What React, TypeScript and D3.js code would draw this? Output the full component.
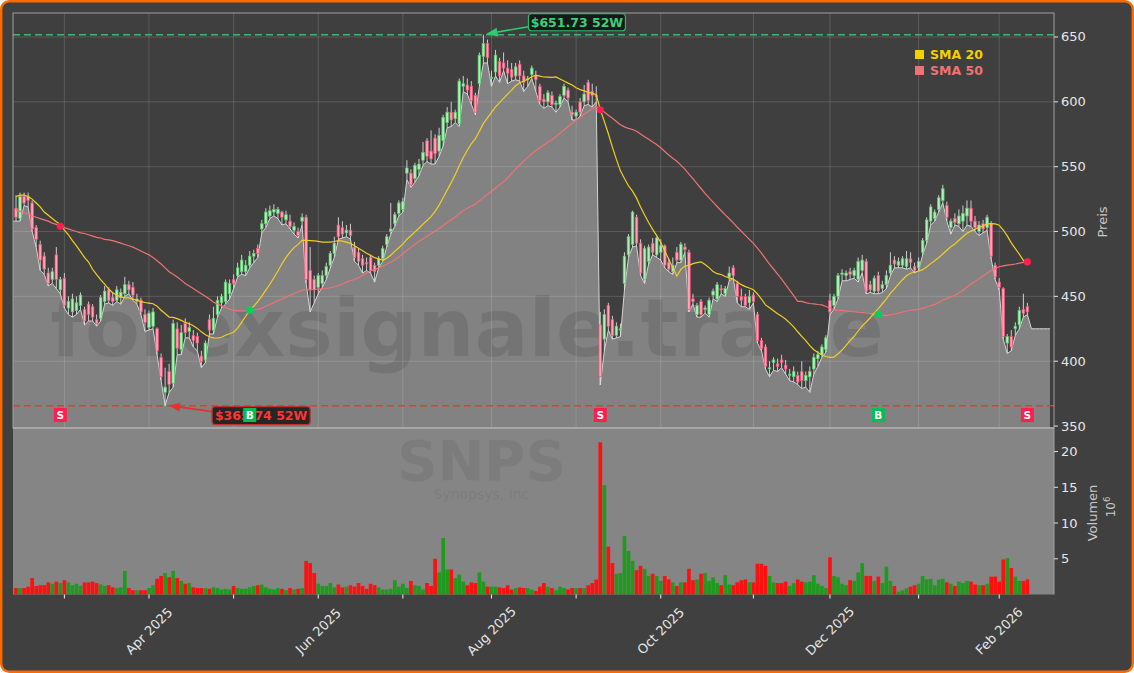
import React from "react";
import * as d3 from "d3";

// ---------- DATA ----------
const opens = [
  518,510,527,527,522,503,490,481,468,463,
  482,455,464,441,438,439,443,440,444,442,
  432,433,446,455,449,447,449,452,459,457,
  446,447,436,426,427,425,403,376,392,383,
  425,409,429,423,420,419,404,401,432,424,
  436,445,446,452,463,466,469,469,474,481,
  487,502,506,512,515,514,515,509,508,501,
  500,508,511,470,463,457,460,466,474,483,
  505,503,499,501,488,484,479,476,480,474,
  474,479,490,500,506,514,517,545,545,541,
  548,555,570,562,572,562,570,584,592,587,
  583,612,613,612,605,614,635,645,618,623,
  631,630,626,625,620,629,620,617,621,620,
  612,602,600,605,598,598,605,609,592,589,
  600,600,615,608,605,428,417,443,432,420,
  424,460,482,490,511,491,463,477,491,482,
  484,489,476,469,484,478,488,484,448,436,
  446,440,436,451,448,456,452,465,472,460,
  450,450,445,451,436,416,411,394,399,398,
  401,397,389,388,389,392,385,388,394,402,
  405,409,447,443,450,467,466,469,466,463,
  470,477,459,454,466,456,459,468,478,474,
  474,473,479,473,472,484,493,508,510,517,
  524,520,503,510,506,508,512,518,508,500,
  506,503,506,474,461,456,414,419,425,428,
  440,442,
];
const highs = [
  528,530,530,530,524,505,493,484,472,472,
  488,465,468,450,452,450,453,442,446,444,
  436,451,458,457,453,458,456,465,462,461,
  452,449,440,439,441,426,406,395,398,432,
  430,428,433,430,424,422,408,416,436,442,
  450,452,463,463,467,476,482,478,485,486,
  490,509,518,520,521,519,516,516,513,507,
  503,514,513,488,466,468,470,476,485,496,
  511,508,505,506,492,487,482,480,482,476,
  481,489,498,522,515,524,526,555,548,553,
  556,569,572,578,575,580,590,596,600,594,
  618,620,618,616,607,638,651.73,648,624,640,
  634,638,632,630,630,632,624,620,628,624,
  614,606,609,608,601,606,614,611,597,594,
  603,613,617,614,612,438,440,445,435,430,
  429,484,498,516,513,494,489,490,495,496,
  494,490,479,480,488,492,491,486,452,445,
  448,443,449,456,461,459,458,473,474,462,
  456,452,455,453,438,418,413,400,403,402,
  405,401,394,396,392,400,392,396,406,408,
  413,420,452,452,468,471,470,472,472,480,
  482,479,462,466,469,462,470,484,481,480,
  481,485,484,476,480,495,511,521,517,528,
  536,523,510,514,517,520,524,524,512,508,
  509,513,508,476,464,457,421,424,430,442,
  452,445,
];
const lows = [
  508,508,520,519,500,488,470,467,458,460,
  456,452,441,436,434,436,440,428,431,431,
  427,431,444,445,443,446,444,450,452,447,
  444,436,423,424,425,405,385,365.74,376,380,
  405,405,418,418,411,408,395,399,421,421,
  434,441,444,448,456,465,467,466,472,476,
  480,499,503,510,512,510,505,506,502,498,
  495,505,460,438,445,452,457,463,472,480,
  494,495,496,494,477,474,468,470,468,461,
  472,477,488,498,504,512,515,540,534,538,
  543,551,554,552,552,558,566,580,581,584,
  581,608,606,598,590,612,630,630,612,620,
  615,624,614,616,617,616,608,612,618,608,
  598,595,597,596,592,596,603,600,586,586,
  589,597,598,596,600,381.7,408,424,417,418,
  419,455,480,488,489,466,460,475,482,480,
  478,472,469,467,476,476,484,438,444,434,
  434,437,434,448,446,452,450,462,464,445,
  442,442,440,445,414,408,394,388,393,392,
  395,390,385,384,382,379,380,376,390,396,
  403,407,436,440,448,462,462,463,464,461,
  468,452,453,452,452,453,456,466,472,472,
  472,471,472,468,470,482,491,505,508,515,
  522,508,498,505,504,500,505,504,500,497,
  499,501,479,463,455,417,406,408,420,425,
  434,436,
];
const closes = [
  511,527,522,524,502,494,478,471,460,469,
  463,463,443,446,448,445,451,431,436,434,
  429,449,454,447,446,455,453,459,455,451,
  448,438,430,437,438,408,388,380,382,429,
  410,422,422,426,416,414,400,414,424,433,
  447,450,461,460,460,472,478,474,481,483,
  483,506,515,516,517,517,511,513,504,504,
  497,511,463,455,455,466,466,473,483,491,
  496,498,501,497,480,477,474,475,470,469,
  479,487,496,502,513,522,523,549,536,551,
  552,561,558,556,560,574,588,592,586,592,
  616,614,609,601,592,636,645,634,619,636,
  620,626,622,619,627,620,615,618,626,617,
  601,600,607,598,599,604,612,603,590,592,
  592,606,601,605,604,388,436,427,420,427,
  425,481,496,515,491,468,487,488,484,495,
  489,474,471,474,478,490,486,440,446,443,
  436,441,447,454,459,455,456,468,466,450,
  447,443,450,446,416,410,396,395,401,396,
  399,394,390,392,384,385,389,392,403,405,
  411,418,438,450,466,468,468,467,470,477,
  478,454,455,464,454,459,466,474,475,477,
  479,479,476,470,477,493,509,519,515,526,
  533,511,508,507,512,514,518,508,503,505,
  502,511,481,465,457,419,419,411,427,439,
  437,438,
];
// volume in millions
const volumes = [
  0.9,0.9,0.9,1.1,2.3,1.2,1.3,1.3,1.7,1.5,
  1.8,1.6,2.0,1.7,1.3,1.5,1.2,1.7,1.7,1.8,
  1.6,1.4,1.2,1.3,1.0,0.9,1.0,3.3,0.9,0.6,
  0.6,0.6,0.6,0.9,1.3,2.2,2.6,3.0,2.4,3.3,
  2.3,1.9,1.5,1.6,1.0,0.9,0.9,0.9,0.8,1.0,
  0.9,0.7,0.8,0.7,1.2,0.9,0.8,0.8,1.0,1.2,
  1.3,1.4,1.0,0.8,0.7,0.9,0.8,0.6,0.9,0.7,
  0.8,0.9,4.7,4.4,3.0,1.5,1.2,1.2,1.6,1.0,
  1.4,1.0,1.1,1.3,1.1,1.6,1.2,0.8,1.5,1.3,
  1.0,0.7,0.7,0.8,2.0,1.1,1.5,0.9,1.9,1.3,
  1.2,0.7,1.6,1.2,5.0,3.1,7.9,3.5,3.5,2.3,
  2.8,1.8,1.3,1.7,1.6,3.1,1.8,1.1,1.1,1.1,
  1.0,0.9,1.3,0.7,0.9,1.0,0.9,0.9,0.7,0.5,
  1.1,1.6,1.1,0.9,0.6,1.1,0.9,0.7,0.9,0.9,
  0.9,0.9,1.3,1.6,2.1,21.3,15.3,6.7,4.4,2.9,
  3.0,8.2,6.1,4.7,3.4,4.0,3.6,2.6,2.9,2.6,
  1.9,2.6,2.1,1.7,1.2,1.7,1.7,3.6,2.0,2.1,
  2.9,3.0,1.9,2.4,1.6,1.3,2.7,1.4,1.3,1.7,
  2.0,2.1,1.7,1.7,4.3,4.3,4.0,2.6,1.7,1.6,
  1.6,1.8,1.2,1.6,2.1,1.8,1.7,1.8,2.7,1.5,
  1.2,0.9,5.2,2.6,2.4,1.5,1.3,2.0,1.9,3.1,
  4.4,2.6,2.6,1.9,2.5,1.6,3.9,1.9,1.2,0.4,
  0.6,0.9,1.1,1.3,1.5,2.6,2.1,2.2,1.3,2.1,
  2.2,1.7,1.5,1.2,1.8,1.6,1.9,1.8,1.4,1.3,
  1.3,1.5,2.5,2.5,1.8,4.9,5.1,3.7,2.5,1.9,
  1.9,2.1,
];
// SMA values before enough history exists
const sma20Lead = [527,528,528,527,525,522,519,515,512.5,510,507.5,505.5,501,497.5,493,489,484.5,480,476.5];
const sma50Lead = [
  516.5,515.5,514.5,513.5,512,511,510,509,508,506.5,
  505.5,504,503,502,501,500,499,498.5,497.5,496.5,
  495.5,495,494,493.5,493,492,491,490,489,488,
  486.5,485,483.5,482,480,477.5,475,472,469,467,
  465,462.5,460,458,456,454,452,450,448,
];
// shaded price area continues flat after the last candle
const areaTail = [425, 425, 425, 425, 425];

const monthTickIdx = [12, 33, 54, 75, 96, 118, 139, 160, 183, 202, 224, 244];
const monthTickLabels = ["", "Apr 2025", "", "Jun 2025", "", "Aug 2025", "", "Oct 2025", "", "Dec 2025", "", "Feb 2026"];
const priceTicks = [350, 400, 450, 500, 550, 600, 650];
const volumeTicks = [5, 10, 15, 20];

const signalIdx = [11, 58, 145, 214, 251];
const signalType = ["S", "B", "S", "B", "S"];

const high52 = 651.73;
const high52Idx = 116;
const low52 = 365.74;
const low52Idx = 37;

const ticker = "SNPS";
const company = "Synopsys, Inc";
const brand = "forexsignale.trade";

// ---------- CHART ----------
const W = 1134;
const H = 673;
const LEFT = 13;
const RIGHT = 1054;
const PTOP = 13;
const PBOT = 428;
const VTOP = 428;
const VBOT = 594.5;
const FONT = "DejaVu Sans, Verdana, sans-serif";

export default function App() {
  const n = closes.length;
  const idx = d3.range(n);
  const x = d3.scaleLinear().domain([-0.75, 257.6]).range([LEFT, RIGHT]);
  const yP = d3.scaleLinear().domain([348.5, 668.5]).range([PBOT, PTOP]);
  const yV = d3.scaleLinear().domain([0, 23.3]).range([VBOT, VTOP]);

  const smaOf = (period: number, lead: number[]) =>
    idx.map((i) => (i < period - 1 ? lead[i] : (d3.mean(closes.slice(i - period + 1, i + 1)) as number)));
  const sma20 = smaOf(20, sma20Lead);
  const sma50 = smaOf(50, sma50Lead);

  const areaPts: { i: number; v: number }[] = [
    { i: -0.75, v: lows[0] },
    ...idx.map((i) => ({ i, v: lows[i] })),
    ...areaTail.map((v, k) => ({ i: n + k, v })),
    { i: n + areaTail.length - 0.4, v: areaTail[areaTail.length - 1] },
  ];
  const areaGen = d3
    .area<{ i: number; v: number }>()
    .x((d) => x(d.i))
    .y0(PBOT)
    .y1((d) => yP(d.v));
  const edgeGen = d3
    .line<{ i: number; v: number }>()
    .x((d) => x(d.i))
    .y((d) => yP(d.v));
  const smaLine = d3
    .line<number>()
    .x((_, i) => x(i))
    .y((d) => yP(d));

  const bw = 2.6;
  const vw = 3.7;

  const hx = x(high52Idx);
  const hy = yP(high52);
  const lx = x(low52Idx);
  const ly = yP(low52);

  return (
    <div style={{ position: "absolute", left: 0, top: 0, width: W, height: H }}>
      <svg width={W} height={H} viewBox={`0 0 ${W} ${H}`} style={{ display: "block", fontFamily: FONT }}>
        <defs>
          <clipPath id="pclip">
            <rect x={LEFT} y={PTOP} width={RIGHT - LEFT} height={PBOT - PTOP} />
          </clipPath>
          <clipPath id="aclip">
            <path d={areaGen(areaPts) || ""} />
          </clipPath>
          <clipPath id="vclip">
            <rect x={LEFT} y={VTOP} width={RIGHT - LEFT} height={VBOT - VTOP} />
          </clipPath>
          <marker id="arrG" viewBox="0 0 10 10" refX="9" refY="5" markerWidth="7" markerHeight="7" orient="auto">
            <path d="M0,1 L10,5 L0,9 z" fill="#2ecc71" />
          </marker>
          <marker id="arrR" viewBox="0 0 10 10" refX="9" refY="5" markerWidth="7" markerHeight="7" orient="auto">
            <path d="M0,1 L10,5 L0,9 z" fill="#e8302f" />
          </marker>
        </defs>

        {/* figure background + border */}
        <rect x={1.2} y={1.2} width={W - 2.4} height={H - 2.4} rx={8} fill="#404040" stroke="#ff6a00" strokeWidth={2.4} />

        {/* ---------- PRICE PANEL ---------- */}
        <rect x={LEFT} y={PTOP} width={RIGHT - LEFT} height={PBOT - PTOP} fill="#3f3f3f" />
        <g clipPath="url(#pclip)">
          <path d={areaGen(areaPts) || ""} fill="#828282" />
          {/* brand watermark, visible on the shaded area only */}
          <g clipPath="url(#aclip)">
            <text x={467} y={356} textAnchor="middle" fontSize={80} fontWeight="bold" fill="#000" fillOpacity={0.1}>
              {brand}
            </text>
          </g>
          {/* grid */}
          {priceTicks.slice(1).map((t) => (
            <line key={"gp" + t} x1={LEFT} x2={RIGHT} y1={yP(t)} y2={yP(t)} stroke="#ffffff" strokeOpacity={0.16} strokeWidth={0.9} />
          ))}
          {monthTickIdx.map((t) => (
            <line key={"gx" + t} x1={x(t)} x2={x(t)} y1={PTOP} y2={PBOT} stroke="#ffffff" strokeOpacity={0.16} strokeWidth={0.9} />
          ))}
          <path d={edgeGen(areaPts) || ""} fill="none" stroke="#d4d4d4" strokeWidth={1} />

          {/* candles */}
          {idx.map((i) => {
            const up = closes[i] >= opens[i];
            const top = yP(Math.max(opens[i], closes[i]));
            const bot = yP(Math.min(opens[i], closes[i]));
            return (
              <g key={"c" + i}>
                <line x1={x(i)} x2={x(i)} y1={yP(highs[i])} y2={yP(lows[i])} stroke="#dcdcdc" strokeWidth={0.9} />
                <rect
                  x={x(i) - bw / 2}
                  y={top}
                  width={bw}
                  height={Math.max(bot - top, 0.9)}
                  fill={up ? "#b4ecbc" : "#ffa3b6"}
                  stroke={up ? "#55c86a" : "#ee5278"}
                  strokeWidth={0.7}
                />
              </g>
            );
          })}

          {/* moving averages */}
          <path d={smaLine(sma50) || ""} fill="none" stroke="#f07272" strokeWidth={1.2} />
          <path d={smaLine(sma20) || ""} fill="none" stroke="#f2cf1d" strokeWidth={1.2} />

          {/* 52 week lines */}
          <line x1={LEFT} x2={RIGHT} y1={hy} y2={hy} stroke="#3cb868" strokeWidth={1.4} strokeDasharray="7,4" />
          <line x1={LEFT} x2={RIGHT} y1={ly} y2={ly} stroke="#e23b3b" strokeWidth={1.5} strokeDasharray="7,4" />

          {/* crossover dots */}
          {signalIdx.map((s, k) => (
            <circle key={"d" + k} cx={x(s)} cy={yP(sma50[s])} r={3.6} fill={signalType[k] === "S" ? "#ff1f4f" : "#00d060"} />
          ))}
        </g>

        {/* 52W low annotation */}
        <line x1={lx + 47} y1={ly + 6} x2={lx + 5} y2={ly} stroke="#e8302f" strokeWidth={1.6} markerEnd="url(#arrR)" />
        <rect x={lx + 47} y={ly + 1} width={98} height={18} rx={3} fill="#1c1c1c" fillOpacity={0.9} stroke="#c0302c" strokeWidth={1.2} />
        <text x={lx + 96} y={ly + 14.5} textAnchor="middle" fontSize={12.5} fontWeight="bold" fill="#ff3434">
          {"$" + low52.toFixed(2) + " 52W"}
        </text>

        {/* signal labels */}
        {signalIdx.map((s, k) => (
          <g key={"s" + k}>
            <rect x={x(s) - 6.5} y={408} width={13} height={14} fill={signalType[k] === "S" ? "#ff1f4f" : "#00c055"} />
            <text x={x(s)} y={419} textAnchor="middle" fontSize={10.5} fontWeight="bold" fill="#ffffff">
              {signalType[k]}
            </text>
          </g>
        ))}

        {/* 52W high annotation */}
        <line x1={hx + 45} y1={hy - 8} x2={hx + 4} y2={hy - 1} stroke="#2ecc71" strokeWidth={1.6} markerEnd="url(#arrG)" />
        <rect x={hx + 45} y={hy - 21} width={97} height={17} rx={3} fill="#141414" fillOpacity={0.9} stroke="#2eb866" strokeWidth={1.2} />
        <text x={hx + 93.5} y={hy - 8} textAnchor="middle" fontSize={12.5} fontWeight="bold" fill="#34d37a">
          {"$" + high52.toFixed(2) + " 52W"}
        </text>

        {/* legend */}
        <rect x={915} y={50} width={9} height={9} fill="#f5d000" />
        <text x={930} y={59} fontSize={12.5} fontWeight="bold" fill="#f5d000">SMA 20</text>
        <rect x={915} y={66} width={9} height={9} fill="#f07272" />
        <text x={930} y={75} fontSize={12.5} fontWeight="bold" fill="#f07272">SMA 50</text>

        {/* price frame */}
        <rect x={LEFT} y={PTOP} width={RIGHT - LEFT} height={PBOT - PTOP} fill="none" stroke="#a0a0a0" strokeWidth={1} />

        {/* ---------- VOLUME PANEL ---------- */}
        <rect x={LEFT} y={VTOP} width={RIGHT - LEFT} height={VBOT - VTOP} fill="#858585" />
        <g clipPath="url(#vclip)">
          <text x={LEFT + 0.45 * (RIGHT - LEFT)} y={480} textAnchor="middle" fontSize={56} fontWeight="bold" fill="#000" fillOpacity={0.065}>
            {ticker}
          </text>
          <text x={LEFT + 0.45 * (RIGHT - LEFT)} y={499} textAnchor="middle" fontSize={14} fill="#000" fillOpacity={0.07}>
            {company}
          </text>
          {idx.map((i) => (
            <rect
              key={"v" + i}
              x={x(i) - vw / 2}
              y={yV(volumes[i])}
              width={vw}
              height={VBOT - yV(volumes[i])}
              fill={closes[i] >= opens[i] ? "#1f9a1f" : "#ff1010"}
            />
          ))}
        </g>
        <line x1={LEFT} x2={RIGHT} y1={VTOP} y2={VTOP} stroke="#b0b0b0" strokeWidth={1.4} />
        <line x1={RIGHT} x2={RIGHT} y1={VTOP} y2={VBOT} stroke="#a0a0a0" strokeWidth={1} />

        {/* ---------- AXES ---------- */}
        {priceTicks.map((t) => (
          <g key={"pt" + t}>
            <line x1={RIGHT} x2={RIGHT + 4} y1={yP(t)} y2={yP(t)} stroke="#e0e0e0" strokeWidth={1} />
            <text x={RIGHT + 7} y={yP(t) + 4.5} fontSize={13} fill="#e6e6e6">{t}</text>
          </g>
        ))}
        <text transform={`translate(1107,222) rotate(-90)`} textAnchor="middle" fontSize={13} fill="#c8c8c8">Preis</text>

        {volumeTicks.map((t) => (
          <g key={"vt" + t}>
            <line x1={RIGHT} x2={RIGHT + 4} y1={yV(t)} y2={yV(t)} stroke="#e0e0e0" strokeWidth={1} />
            <text x={RIGHT + 7} y={yV(t) + 4.5} fontSize={13} fill="#e6e6e6">{t}</text>
          </g>
        ))}
        <text transform={`translate(1097,513) rotate(-90)`} textAnchor="middle" fontSize={13} fill="#c8c8c8">Volumen</text>
        <text transform={`translate(1115,507) rotate(-90)`} textAnchor="middle" fontSize={12} fill="#c8c8c8">
          10<tspan fontSize={8.5} dy={-5}>6</tspan>
        </text>

        {monthTickIdx.map((t, k) => (
          <g key={"xt" + t}>
            <line x1={x(t)} x2={x(t)} y1={VBOT} y2={VBOT + 4} stroke="#f0f0f0" strokeWidth={1} />
            {monthTickLabels[k] !== "" && (
              <text
                transform={`translate(${x(t)},631) rotate(-45)`}
                textAnchor="middle"
                dominantBaseline="central"
                fontSize={13}
                fill="#e6e6e6"
              >
                {monthTickLabels[k]}
              </text>
            )}
          </g>
        ))}
      </svg>
    </div>
  );
}
